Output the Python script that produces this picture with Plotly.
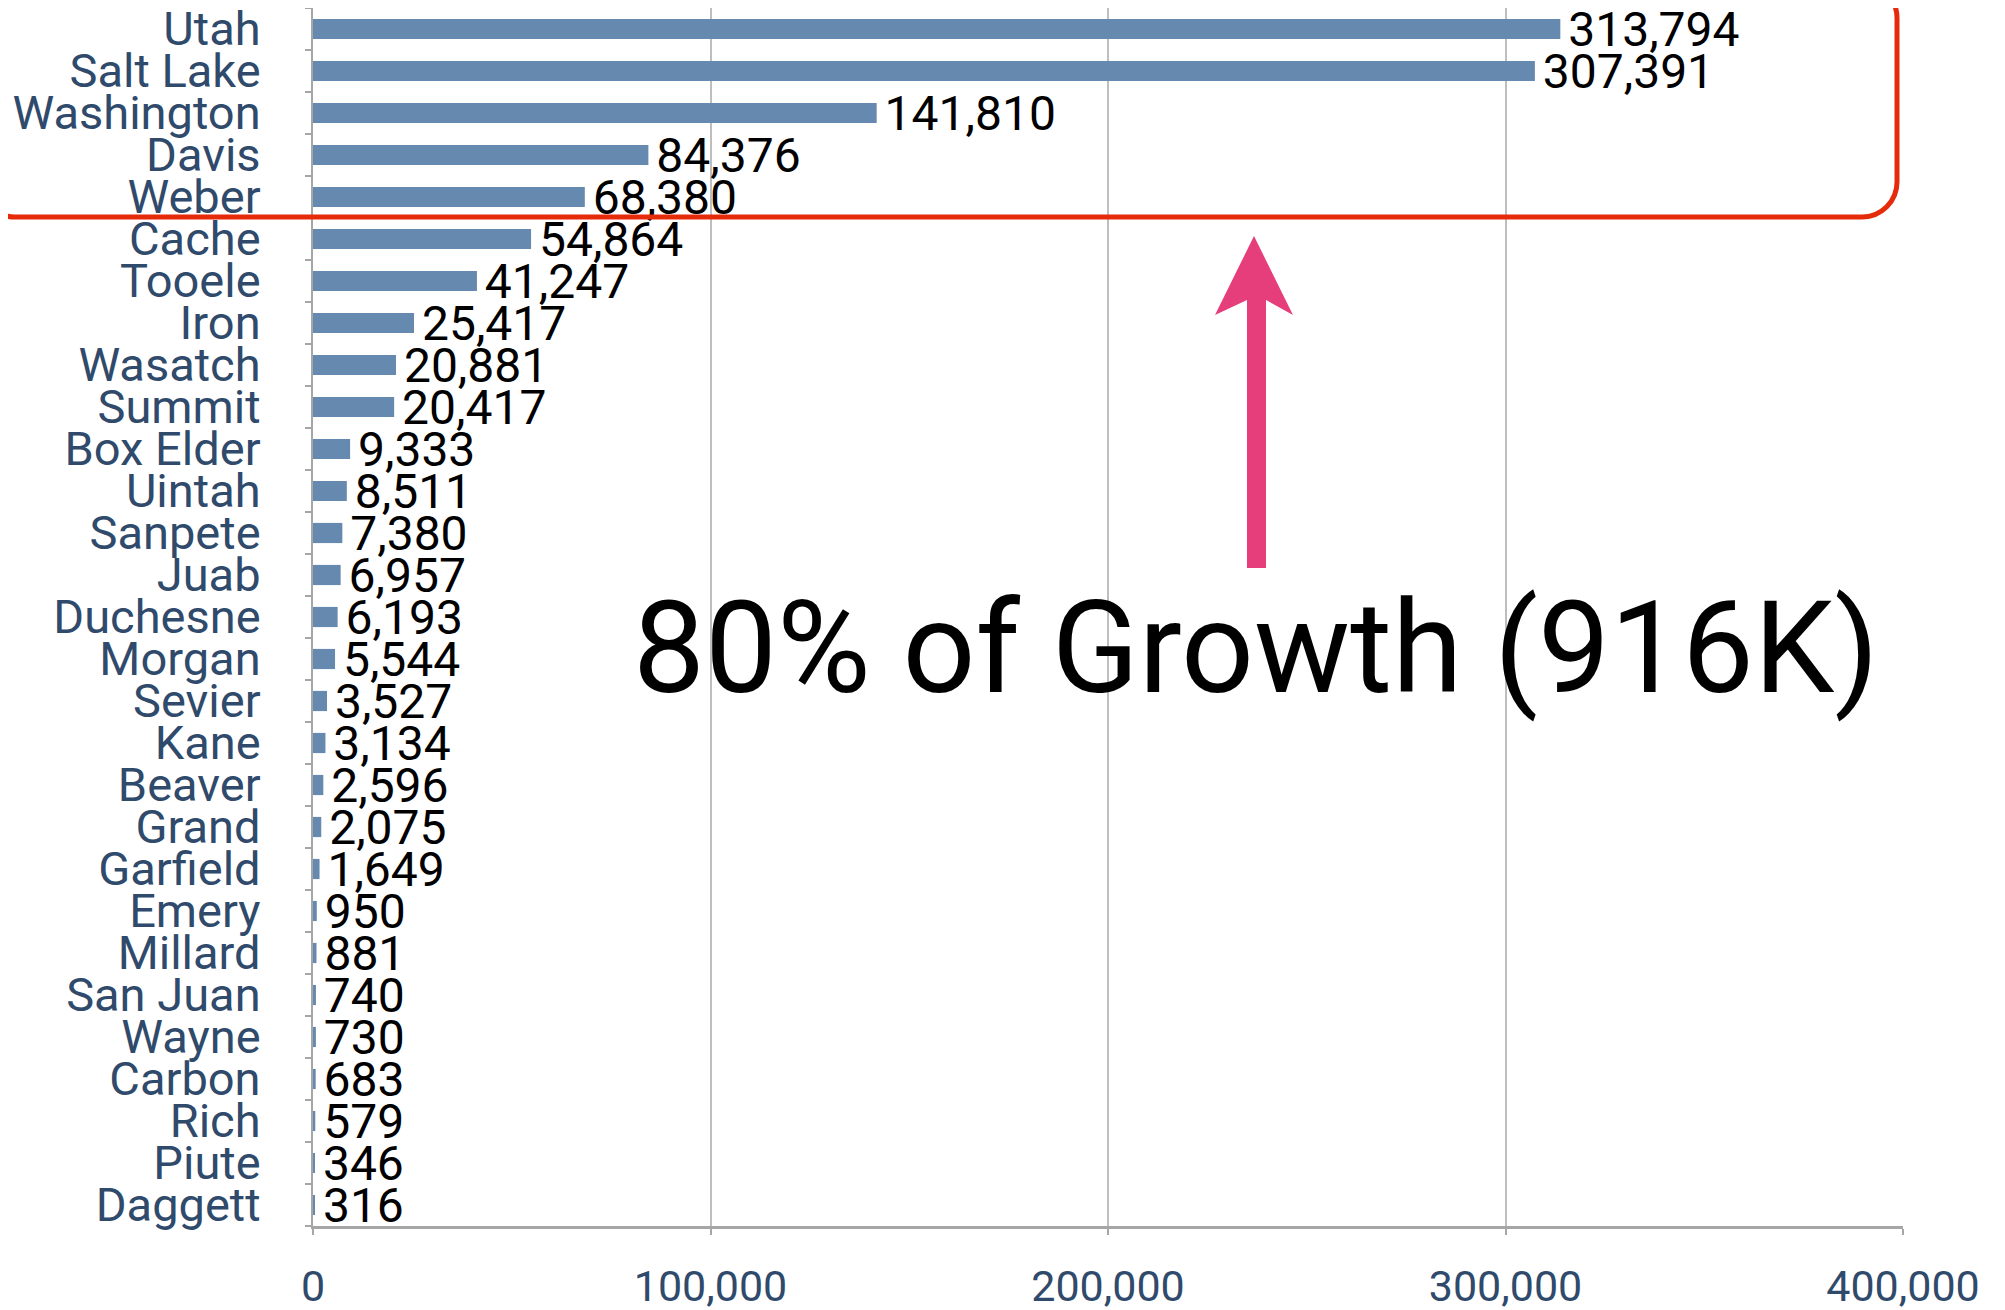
import plotly.graph_objects as go

counties = ['Utah', 'Salt Lake', 'Washington', 'Davis', 'Weber', 'Cache', 'Tooele', 'Iron',
            'Wasatch', 'Summit', 'Box Elder', 'Uintah', 'Sanpete', 'Juab', 'Duchesne', 'Morgan',
            'Sevier', 'Kane', 'Beaver', 'Grand', 'Garfield', 'Emery', 'Millard', 'San Juan',
            'Wayne', 'Carbon', 'Rich', 'Piute', 'Daggett']
growth = [313794, 307391, 141810, 84376, 68380, 54864, 41247, 25417,
          20881, 20417, 9333, 8511, 7380, 6957, 6193, 5544,
          3527, 3134, 2596, 2075, 1649, 950, 881, 740,
          730, 683, 579, 346, 316]
x_ticks = [0, 100000, 200000, 300000, 400000]
x_tick_labels = ['0', '100,000', '200,000', '300,000', '400,000']
callout = '80% of Growth (916K)'

W, H = 2005, 1310
OFF = 8  # body margin of the html page
L, R, T, B = 313 - OFF, 1903 - OFF, 0, 1226 - OFF

# page pixel -> paper helpers for the decorations
def px(x):
    return (x - OFF - L) / (R - L)

def py(y):
    return (B - (y - OFF)) / (B - T)

def path(points, close=True):
    s = 'M ' + ' L '.join('{:.5f},{:.5f}'.format(px(a), py(b)) for a, b in points)
    return s + (' Z' if close else '')

def rounded_box(x0, y0, x1, y1, r):
    k = 0.5523 * r
    s = 'M {:.5f},{:.5f}'.format(px(x0 + r), py(y0))
    s += ' L {:.5f},{:.5f}'.format(px(x1 - r), py(y0))
    s += ' C {:.5f},{:.5f} {:.5f},{:.5f} {:.5f},{:.5f}'.format(px(x1 - r + k), py(y0), px(x1), py(y0 + r - k), px(x1), py(y0 + r))
    s += ' L {:.5f},{:.5f}'.format(px(x1), py(y1 - r))
    s += ' C {:.5f},{:.5f} {:.5f},{:.5f} {:.5f},{:.5f}'.format(px(x1), py(y1 - r + k), px(x1 - r + k), py(y1), px(x1 - r), py(y1))
    s += ' L {:.5f},{:.5f}'.format(px(x0 + r), py(y1))
    s += ' C {:.5f},{:.5f} {:.5f},{:.5f} {:.5f},{:.5f}'.format(px(x0 + r - k), py(y1), px(x0), py(y1 - r + k), px(x0), py(y1 - r))
    s += ' L {:.5f},{:.5f}'.format(px(x0), py(y0 + r))
    s += ' C {:.5f},{:.5f} {:.5f},{:.5f} {:.5f},{:.5f}'.format(px(x0), py(y0 + r - k), px(x0 + r - k), py(y0), px(x0 + r), py(y0))
    return s + ' Z'

label_color = '#2F4A6B'
grid_color = '#BEBEBE'
axis_color = '#A6A6A6'

fig = go.Figure(go.Bar(
    x=growth, y=counties, orientation='h',
    marker_color='#6689B0', marker_line_width=0,
    width=0.48,
    text=growth, texttemplate='\u200a%{x:,}', textposition='outside',
    textfont=dict(family='Roboto', size=48, color='black'),
    constraintext='none', cliponaxis=False,
))

arrow = [(1247, 568), (1247, 300), (1215, 315), (1254, 236), (1293, 315), (1266, 300), (1266, 568)]

fig.update_layout(
    width=W, height=H,
    margin=dict(l=L, r=W - R, t=T, b=H - B, pad=0),
    plot_bgcolor='white', paper_bgcolor='white',
    showlegend=False,
    font=dict(family='Roboto', color=label_color),
    xaxis=dict(range=[0, 400000], tickmode='array', tickvals=x_ticks, ticktext=x_tick_labels,
               showgrid=True, gridcolor=grid_color, gridwidth=1.5,
               showline=True, linecolor=axis_color, linewidth=3,
               ticks='outside', ticklen=6, tickcolor=axis_color, tickwidth=1.5,
               tickfont=dict(family='Roboto', size=43, color=label_color),
               ticklabelstandoff=14, zeroline=False, automargin=False, fixedrange=True),
    yaxis=dict(autorange='reversed', showgrid=False,
               tickmode='array', tickvals=counties, ticktext=counties,
               showline=True, linecolor=axis_color, linewidth=2,
               ticks='outside', ticklen=6, tickcolor=axis_color, tickwidth=1.5,
               tickson='boundaries',
               tickfont=dict(family='Roboto', size=47, color=label_color),
               ticklabelstandoff=41, automargin=False, fixedrange=True),
    shapes=[
        dict(type='rect', xref='paper', yref='paper',
             x0=px(628), x1=px(1916), y0=py(738), y1=py(567),
             fillcolor='white', line_width=0, layer='between'),
        dict(type='path', xref='paper', yref='paper', path=rounded_box(-20, -17, 1897, 217, 35),
             line=dict(color='#E62B0A', width=5), fillcolor='rgba(0,0,0,0)', layer='above'),
        dict(type='path', xref='paper', yref='paper', path=path(arrow),
             fillcolor='#E53E7B', line_width=0, layer='above'),
    ],
    annotations=[
        dict(text=callout, xref='paper', yref='paper', x=px(1256), y=py(648),
             xanchor='center', yanchor='middle', showarrow=False,
             font=dict(family='Roboto', size=128, color='black')),
    ],
)

fig.write_html('out.html')
